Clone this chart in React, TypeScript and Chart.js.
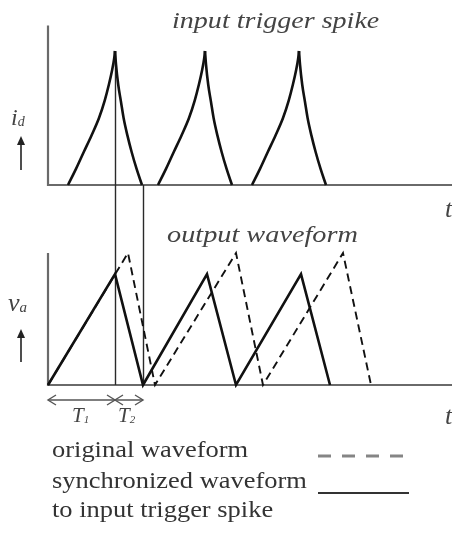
import React, { useEffect, useRef } from "react";
import { Chart, registerables } from "chart.js";

Chart.register(...registerables);

// ---- time base (arbitrary units) ----
const T_MAX = 404;
const T1 = 67;
const T2 = 28;

// ---- input trigger spikes i_d (normalised to peak = 1) ----
const spikePeakTimes = [67, 157, 251];
// rising flank: time offset from the peak and level
const spikeRiseOffsets = [-47, -39, -31, -23.5, -16, -10.3, -6.1, -2.8, -0.9, 0];
const spikeRiseLevels = [0, 0.12, 0.25, 0.37, 0.5, 0.63, 0.75, 0.86, 0.94, 1];
// falling flank
const spikeFallOffsets = [0, 1, 3.2, 6, 8.6, 12.4, 16.5, 21.6, 27];
const spikeFallLevels = [1, 0.9, 0.75, 0.62, 0.5, 0.37, 0.25, 0.12, 0];

// ---- output waveform v_a ----
// original (free-running) sawtooth
const originalTimes = [0, 80, 107, 188, 215, 295, 323];
const originalLevels = [0, 1, 0, 1, 0, 1, 0];
// synchronized to the input trigger spike
const syncTimes = [0, 67, 95, 159, 188, 253, 282];
const syncLevels = [0, 0.84, 0, 0.84, 0, 0.84, 0];

// ---- axis extents ----
const TOP_AXIS_HEIGHT = 1.19;
const BOT_AXIS_HEIGHT = 1.0;

// ---- canvas layout (pixels) ----
const W = 452;
const H = 535;
const ORIGIN_X = 48;
const TOP_BASE_Y = 185;
const TOP_UNIT = 134;
const BOT_BASE_Y = 385;
const BOT_UNIT = 132;

const INK = "#111";
const AXIS = "#6a6a6a";
const SERIF = '"Liberation Serif", "Times New Roman", serif';

const pts = (xs: number[], ys: number[]) => xs.map((x, i) => ({ x, y: ys[i] }));

function buildDatasets() {
  const ds: any[] = [];
  spikePeakTimes.forEach((tp) => {
    ds.push({
      data: pts(spikeRiseOffsets.map((o) => tp + o), spikeRiseLevels),
      yAxisID: "yTop",
      borderColor: INK,
      borderWidth: 2.6,
      cubicInterpolationMode: "monotone",
    });
    ds.push({
      data: pts(spikeFallOffsets.map((o) => tp + o), spikeFallLevels),
      yAxisID: "yTop",
      borderColor: INK,
      borderWidth: 2.6,
      cubicInterpolationMode: "monotone",
    });
  });
  ds.push({
    data: pts(originalTimes, originalLevels),
    yAxisID: "yBot",
    borderColor: INK,
    borderWidth: 1.9,
    borderDash: [8, 5],
    tension: 0,
  });
  ds.push({
    data: pts(syncTimes, syncLevels),
    yAxisID: "yBot",
    borderColor: INK,
    borderWidth: 2.6,
    tension: 0,
  });
  return ds.map((d) => ({
    pointRadius: 0,
    fill: false,
    clip: false,
    borderJoinStyle: "miter",
    ...d,
  }));
}

function upArrow(ctx: CanvasRenderingContext2D, x: number, y0: number, y1: number) {
  ctx.beginPath();
  ctx.moveTo(x, y0);
  ctx.lineTo(x, y1 + 6);
  ctx.stroke();
  ctx.beginPath();
  ctx.moveTo(x, y1);
  ctx.lineTo(x - 4, y1 + 9);
  ctx.lineTo(x + 4, y1 + 9);
  ctx.closePath();
  ctx.fill();
}

function chevron(ctx: CanvasRenderingContext2D, x: number, y: number, dir: number) {
  ctx.beginPath();
  ctx.moveTo(x - dir * 8, y - 5);
  ctx.lineTo(x, y);
  ctx.lineTo(x - dir * 8, y + 5);
  ctx.stroke();
}

// axes, trigger connectors, period arrows and legend keys
const schematic = {
  id: "schematic",
  beforeDatasetsDraw(chart: any) {
    const { ctx } = chart;
    const x = chart.scales.x;
    const yt = chart.scales.yTop;
    const yb = chart.scales.yBot;
    ctx.save();
    ctx.lineCap = "butt";

    // axes
    ctx.strokeStyle = AXIS;
    ctx.lineWidth = 2.2;
    ctx.beginPath();
    ctx.moveTo(x.getPixelForValue(0), yt.getPixelForValue(TOP_AXIS_HEIGHT));
    ctx.lineTo(x.getPixelForValue(0), yt.getPixelForValue(0));
    ctx.lineTo(x.getPixelForValue(T_MAX), yt.getPixelForValue(0));
    ctx.moveTo(x.getPixelForValue(0), yb.getPixelForValue(BOT_AXIS_HEIGHT));
    ctx.lineTo(x.getPixelForValue(0), yb.getPixelForValue(0));
    ctx.lineTo(x.getPixelForValue(T_MAX), yb.getPixelForValue(0));
    ctx.stroke();

    // connectors from the first trigger spike down to the output
    ctx.strokeStyle = "#2a2a2a";
    ctx.lineWidth = 1.4;
    const xa = Math.round(x.getPixelForValue(T1)) + 0.5;
    const xb = Math.round(x.getPixelForValue(T1 + T2)) + 0.5;
    ctx.beginPath();
    ctx.moveTo(xa, yt.getPixelForValue(1));
    ctx.lineTo(xa, yb.getPixelForValue(0));
    ctx.moveTo(xb, yt.getPixelForValue(0));
    ctx.lineTo(xb, yb.getPixelForValue(0));
    ctx.stroke();

    // T1 / T2 arrows
    const ya = 400;
    const x0 = x.getPixelForValue(0);
    const x1 = x.getPixelForValue(T1);
    const x2 = x.getPixelForValue(T1 + T2);
    ctx.strokeStyle = "#555";
    ctx.lineWidth = 1.4;
    ctx.beginPath();
    ctx.moveTo(x0, ya);
    ctx.lineTo(x2, ya);
    ctx.stroke();
    chevron(ctx, x0, ya, -1);
    chevron(ctx, x1, ya, 1);
    chevron(ctx, x1, ya, -1);
    chevron(ctx, x2, ya, 1);

    // up arrows beside the quantity labels
    ctx.strokeStyle = "#222";
    ctx.fillStyle = "#222";
    ctx.lineWidth = 1.6;
    upArrow(ctx, 21, 170, 136);
    upArrow(ctx, 21, 362, 329);

    // legend keys
    ctx.strokeStyle = "#858585";
    ctx.lineWidth = 3;
    ctx.setLineDash([13, 11]);
    ctx.beginPath();
    ctx.moveTo(318, 456);
    ctx.lineTo(408, 456);
    ctx.stroke();
    ctx.setLineDash([]);
    ctx.strokeStyle = "#333";
    ctx.lineWidth = 2;
    ctx.beginPath();
    ctx.moveTo(318, 493);
    ctx.lineTo(409, 493);
    ctx.stroke();
    ctx.restore();
  },
};

type LabelProps = {
  left: number;
  baseline: number;
  size: number;
  italic?: boolean;
  stretch?: number;
  color?: string;
  children: React.ReactNode;
};

function Label({ left, baseline, size, italic, stretch = 1, color = "#333", children }: LabelProps) {
  return (
    <span
      style={{
        position: "absolute",
        left,
        top: baseline - 0.8375 * size,
        fontFamily: SERIF,
        fontSize: size,
        lineHeight: 1,
        fontStyle: italic ? "italic" : "normal",
        color,
        whiteSpace: "nowrap",
        transform: `scaleX(${stretch})`,
        transformOrigin: "left top",
      }}
    >
      {children}
    </span>
  );
}

function Sub({ children, size, drop }: { children: React.ReactNode; size: number; drop: number }) {
  return (
    <span style={{ fontSize: size, position: "relative", top: drop }}>{children}</span>
  );
}

export default function App() {
  const canvasRef = useRef<HTMLCanvasElement | null>(null);

  useEffect(() => {
    const canvas = canvasRef.current;
    if (!canvas) return;
    const chart = new Chart(canvas, {
      type: "line",
      data: { datasets: buildDatasets() },
      options: {
        responsive: false,
        animation: false,
        events: [],
        layout: { padding: 0 },
        plugins: { legend: { display: false }, tooltip: { enabled: false } },
        scales: {
          x: {
            type: "linear",
            display: false,
            min: -ORIGIN_X,
            max: W - ORIGIN_X,
          },
          yTop: {
            type: "linear",
            display: false,
            max: TOP_BASE_Y / TOP_UNIT,
            min: TOP_BASE_Y / TOP_UNIT - H / TOP_UNIT,
          },
          yBot: {
            type: "linear",
            display: false,
            max: BOT_BASE_Y / BOT_UNIT,
            min: BOT_BASE_Y / BOT_UNIT - H / BOT_UNIT,
          },
        },
      },
      plugins: [schematic],
    });
    return () => chart.destroy();
  }, []);

  return (
    <div
      style={{
        position: "absolute",
        left: 0,
        top: 0,
        width: W,
        height: H,
        background: "#fff",
        overflow: "hidden",
      }}
    >
      <canvas ref={canvasRef} width={W} height={H} style={{ position: "absolute", left: 0, top: 0 }} />
      <Label left={172} baseline={28} size={23} italic stretch={1.22} color="#444">
        input trigger spike
      </Label>
      <Label left={167} baseline={242} size={23} italic stretch={1.23} color="#444">
        output waveform
      </Label>
      <Label left={11} baseline={125} size={24} italic color="#444">
        i<Sub size={14} drop={1}>d</Sub>
      </Label>
      <Label left={8} baseline={312} size={26} italic color="#444">
        v<Sub size={15} drop={1}>a</Sub>
      </Label>
      <Label left={72} baseline={423} size={21} italic color="#444">
        T<Sub size={11} drop={1}>1</Sub>
      </Label>
      <Label left={118} baseline={423} size={21} italic color="#444">
        T<Sub size={11} drop={1}>2</Sub>
      </Label>
      <Label left={445} baseline={218} size={26} italic color="#444">
        t
      </Label>
      <Label left={445} baseline={425} size={26} italic color="#444">
        t
      </Label>
      <Label left={52} baseline={457} size={23} stretch={1.15}>
        original waveform
      </Label>
      <Label left={52} baseline={488} size={23} stretch={1.15}>
        synchronized waveform
      </Label>
      <Label left={52} baseline={517} size={23} stretch={1.15}>
        to input trigger spike
      </Label>
    </div>
  );
}
